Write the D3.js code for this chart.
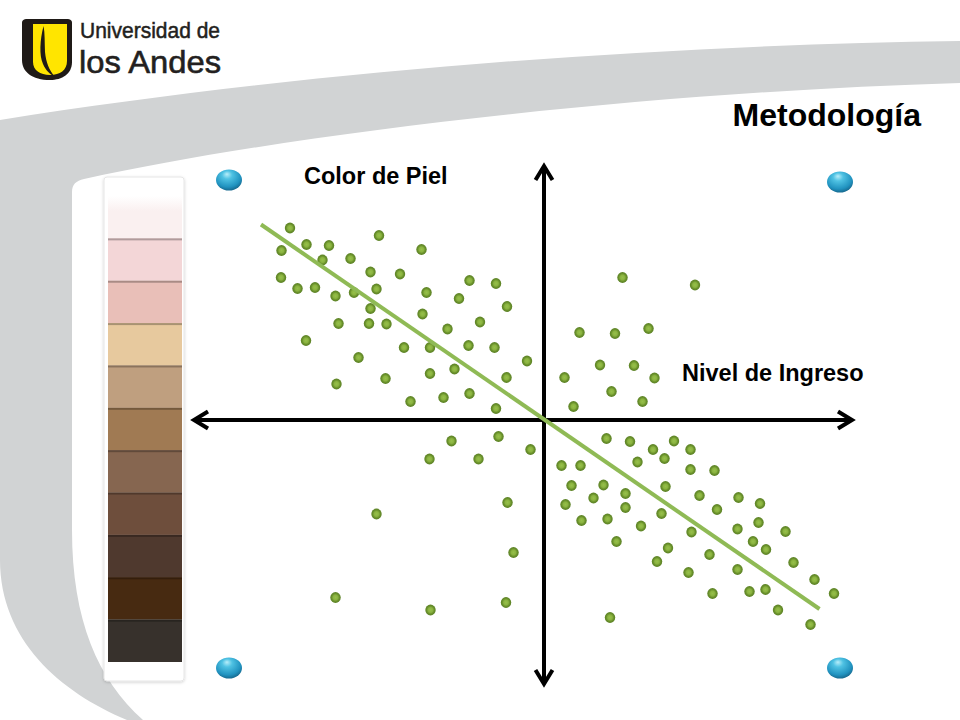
<!DOCTYPE html>
<html><head><meta charset="utf-8">
<script src="https://cdn.jsdelivr.net/npm/d3@7"></script>
<style>html,body{margin:0;padding:0;background:#fff;} svg{display:block;}</style>
</head><body>
<svg id="chart" width="960" height="720"></svg>
<script>
// ---- data (income = x, skin colour = y, arbitrary centred units) ----
const incomeValues = [
  -50.8,-47.5,-43.0,-33.0,-52.5,-44.3,-38.7,-24.5,-34.7,-28.8,
  -52.6,-49.3,-45.8,-41.7,-38.0,-33.5,-23.5,-14.9,-9.6,-17.0,
  -7.4,-34.7,-24.3,-41.1,-35.0,-31.5,-19.3,-12.8,-47.6,-28.0,
  -22.8,-15.1,-9.9,-3.4,-37.1,-31.7,-22.8,-17.9,-7.5,-41.5,
  -26.7,-20.1,-14.9,-9.6,
  15.7,30.2,7.1,14.2,20.9,11.2,18.0,4.1,22.1,13.5,19.7,5.9,
  -18.5,-9.1,-2.7,-22.9,-13.1,-7.3,-33.5,-6.1,-41.7,-22.7,-7.6,
  12.5,17.2,21.8,26.0,29.3,3.5,7.3,18.7,24.1,29.3,34.1,5.5,11.9,24.3,
  9.9,16.3,31.1,38.9,43.2,4.3,16.3,34.6,23.5,7.5,12.7,19.4,38.7,42.9,
  29.5,48.3,14.5,41.8,24.8,44.4,33.1,22.6,49.9,28.9,38.7,54.1,33.7,
  41.1,44.3,58.0,46.8,13.2,53.3
];
const skinValues = [
  38.4,35.1,34.9,36.9,33.9,32.0,32.3,34.1,29.6,29.2,
  28.5,26.3,26.5,24.8,25.5,26.2,25.5,27.9,27.3,24.3,
  22.7,22.3,21.2,19.3,19.3,19.2,18.2,19.6,15.9,14.5,
  14.5,14.9,14.5,11.8,12.5,8.3,9.3,10.2,8.5,7.2,
  3.7,4.5,5.3,2.3,
  28.5,27.0,17.5,17.3,18.3,11.0,10.9,8.5,8.4,5.7,3.7,2.7,
  -4.2,-3.3,-5.9,-7.8,-7.8,-16.5,-18.8,-26.5,-35.5,-38.0,-36.5,
  -3.7,-4.3,-5.9,-4.2,-5.9,-9.1,-9.1,-8.4,-7.7,-9.9,-10.1,-13.1,-13.0,-13.3,
  -15.6,-14.7,-15.1,-15.5,-16.7,-16.9,-17.5,-17.9,-18.7,-20.1,-19.8,-21.2,-21.8,-20.5,
  -22.4,-22.3,-24.3,-24.3,-25.6,-25.9,-26.9,-28.3,-28.5,-30.5,-29.9,-31.9,-34.7,
  -34.3,-33.9,-34.7,-38.0,-39.5,-40.9
];
const trendIncome = [-56.6, 55.1];
const trendSkin = [39.1, -37.8];
const axisIncome = [-70, 61.6];
const axisSkin = [-52.8, 50.8];
const cornerIncome = [-63, 59.2, -63, 59.2];
const cornerSkin = [48, 47.6, -49.6, -49.6];
const skinTones = ["#faf0f0","#f3d6d7","#e9bfb8","#e7c99e","#bf9f7f","#a07a53",
                   "#866650","#6e4e3c","#4f392e","#472a11","#37312c"];
const titleText = "Metodología";
const xLabel = "Nivel de Ingreso";
const yLabel = "Color de Piel";
const logoLines = ["Universidad de", "los Andes"];

// ---- drawing ----
const svg = d3.select("#chart");
const defs = svg.append("defs");

const x = d3.scaleLinear().domain([-70, 70]).range([194, 894]);
const y = d3.scaleLinear().domain([-56, 56]).range([700, 140]);

svg.append("rect").attr("width", 960).attr("height", 720).attr("fill", "#fff");

// grey swoosh
svg.append("path")
  .attr("d", "M960,41 C650,45 300,72 0,120 L0,560 C0,640 60,692 127,720 L143,720 C98,680 72,620 72,530 L72,192 C72,184 76,181 84,179 C300,132 650,92 960,83 Z")
  .attr("fill", "#d1d3d4");

// logo
const logo = svg.append("g");
logo.append("path")
  .attr("d", "M22,23 C22,20 24,19 27,19 L67,19 C70,19 72,20 72,23 L72,62 C72,74 62,80 50,80 C32,80 22,72 22,60 Z")
  .attr("fill", "#1f1a17");
logo.append("path")
  .attr("d", "M33,24 L67,24 L67,61 C67,70 60,75 50,75 C40,75 33,70 33,62 Z")
  .attr("fill", "#ffe500");
logo.append("path")
  .attr("d", "M43.5,26 C40,40 39,55 43,64 C46,71 50,74 55,77 C49,70 46,62 45,52 C44.5,42 45,33 43.5,26 Z")
  .attr("fill", "#1f1a17");
logo.append("text").attr("x", 80).attr("y", 38)
  .attr("font-family", "'Liberation Sans Narrow','Arial Narrow',sans-serif")
  .attr("font-size", 22).attr("fill", "#231f20")
  .attr("stroke", "#231f20").attr("stroke-width", 0.5)
  .attr("textLength", 140).attr("lengthAdjust", "spacingAndGlyphs")
  .text(logoLines[0]);
logo.append("text").attr("x", 79).attr("y", 73)
  .attr("font-family", "'Liberation Sans Narrow','Arial Narrow',sans-serif")
  .attr("font-size", 32).attr("fill", "#231f20")
  .attr("stroke", "#231f20").attr("stroke-width", 0.6)
  .attr("textLength", 142).attr("lengthAdjust", "spacingAndGlyphs")
  .text(logoLines[1]);

// title
svg.append("text").attr("x", 921).attr("y", 126).attr("text-anchor", "end")
  .attr("font-family", "Arial, 'Liberation Sans', sans-serif")
  .attr("font-weight", "bold").attr("font-size", 32).attr("fill", "#000")
  .text(titleText);

// palette frame
const shadow = defs.append("filter").attr("id", "sh").attr("x", "-20%").attr("y", "-5%").attr("width", "140%").attr("height", "110%");
shadow.append("feDropShadow").attr("dx", 0).attr("dy", 1).attr("stdDeviation", 1.5).attr("flood-color", "#000").attr("flood-opacity", 0.18);
svg.append("rect").attr("x", 104).attr("y", 177).attr("width", 80).attr("height", 504)
  .attr("rx", 3).attr("fill", "#fff").attr("stroke", "#e6e6e6").attr("filter", "url(#sh)");

const band = d3.scaleBand().domain(d3.range(skinTones.length)).range([196, 662]).padding(0);
const fadeGrad = defs.append("linearGradient").attr("id", "fade").attr("x1", 0).attr("y1", 0).attr("x2", 0).attr("y2", 1);
fadeGrad.append("stop").attr("offset", "0%").attr("stop-color", "#fff");
fadeGrad.append("stop").attr("offset", "35%").attr("stop-color", skinTones[0]);
fadeGrad.append("stop").attr("offset", "100%").attr("stop-color", skinTones[0]);
const sw = svg.append("g");
sw.selectAll("rect.sw").data(skinTones).join("rect").attr("class", "sw")
  .attr("x", 108).attr("width", 74)
  .attr("y", (d, i) => band(i)).attr("height", band.bandwidth())
  .attr("fill", (d, i) => i === 0 ? "url(#fade)" : d);
sw.selectAll("rect.sep").data(skinTones.slice(1)).join("rect").attr("class", "sep")
  .attr("x", 108).attr("width", 74)
  .attr("y", (d, i) => band(i + 1)).attr("height", 2)
  .attr("fill", d => d3.color(d).darker(0.9));

// blue spheres
const sg = defs.append("radialGradient").attr("id", "sph").attr("cx", "45%").attr("cy", "35%").attr("r", "65%").attr("fx", "42%").attr("fy", "22%");
sg.append("stop").attr("offset", "0%").attr("stop-color", "#b8eefa");
sg.append("stop").attr("offset", "30%").attr("stop-color", "#4fc2e3");
sg.append("stop").attr("offset", "78%").attr("stop-color", "#2193c0");
sg.append("stop").attr("offset", "100%").attr("stop-color", "#176a90");
svg.append("g").selectAll("ellipse").data(d3.range(cornerIncome.length)).join("ellipse")
  .attr("cx", i => x(cornerIncome[i])).attr("cy", i => y(cornerSkin[i]))
  .attr("rx", 13).attr("ry", 10.5).attr("fill", "url(#sph)");

// axes with open arrowheads
const axes = svg.append("g").attr("stroke", "#000").attr("stroke-width", 4).attr("fill", "none");
const x0 = x(0), y0 = y(0);
const L = x(axisIncome[0]), R = x(axisIncome[1]);
const T = y(axisSkin[1]), B = y(axisSkin[0]);
axes.append("line").attr("x1", L + 2).attr("x2", R - 2).attr("y1", y0).attr("y2", y0);
axes.append("line").attr("x1", x0).attr("x2", x0).attr("y1", T + 2).attr("y2", B - 2);
const ah = 14, aw = 8.5;
axes.append("path").attr("d", `M${R - ah},${y0 - aw} L${R},${y0} L${R - ah},${y0 + aw}`);
axes.append("path").attr("d", `M${L + ah},${y0 - aw} L${L},${y0} L${L + ah},${y0 + aw}`);
axes.append("path").attr("d", `M${x0 - aw},${T + ah} L${x0},${T} L${x0 + aw},${T + ah}`);
axes.append("path").attr("d", `M${x0 - aw},${B - ah} L${x0},${B} L${x0 + aw},${B - ah}`);

// axis labels
svg.append("text").attr("x", 304).attr("y", 184)
  .attr("font-family", "Arial, 'Liberation Sans', sans-serif").attr("font-weight", "bold")
  .attr("font-size", 23.5).attr("fill", "#000").text(yLabel);
svg.append("text").attr("x", 682).attr("y", 381)
  .attr("font-family", "Arial, 'Liberation Sans', sans-serif").attr("font-weight", "bold")
  .attr("font-size", 23.5).attr("fill", "#000").text(xLabel);

// scatter points
const dg = defs.append("radialGradient").attr("id", "dot").attr("cx", "50%").attr("cy", "50%").attr("r", "50%");
dg.append("stop").attr("offset", "0%").attr("stop-color", "#97c04c");
dg.append("stop").attr("offset", "45%").attr("stop-color", "#8ab33f");
dg.append("stop").attr("offset", "70%").attr("stop-color", "#6c932d");
dg.append("stop").attr("offset", "100%").attr("stop-color", "#5a8024");
svg.append("g").selectAll("ellipse").data(d3.range(incomeValues.length)).join("ellipse")
  .attr("cx", i => x(incomeValues[i])).attr("cy", i => y(skinValues[i]))
  .attr("rx", 5.2).attr("ry", 5.4).attr("fill", "url(#dot)");

// trend line
svg.append("line")
  .attr("x1", x(trendIncome[0])).attr("y1", y(trendSkin[0]))
  .attr("x2", x(trendIncome[1])).attr("y2", y(trendSkin[1]))
  .attr("stroke", "#8fba55").attr("stroke-width", 4);
</script>
</body></html>
